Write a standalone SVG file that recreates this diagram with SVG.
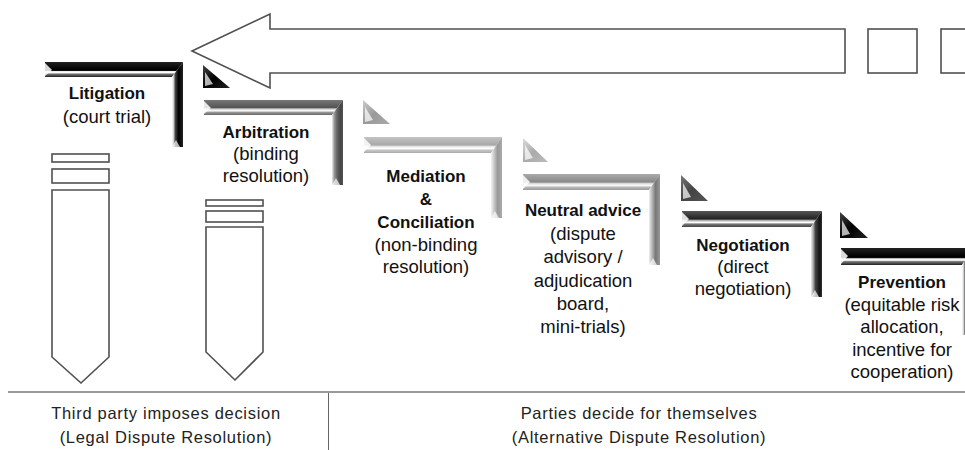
<svg xmlns="http://www.w3.org/2000/svg" width="965" height="450" viewBox="0 0 965 450">
<style>
text{font-family:"Liberation Sans",Arial,sans-serif;fill:#111;text-anchor:middle}
.h{font-weight:bold;font-size:17px}
.r{font-size:18.5px}
.f{font-size:16.5px;letter-spacing:0.7px;fill:#222}
.ol{fill:#fff;stroke:#505050;stroke-width:1.6}
.k .top{fill:url(#kT)} .k .side{fill:url(#kS)} .k .tri{fill:url(#kR)}
.a .top{fill:url(#aT)} .a .side{fill:url(#aS)}
.m .top{fill:url(#mT)} .m .side{fill:url(#mS)} .m .tri{fill:url(#mR)}
.n .top{fill:url(#nT)} .n .side{fill:url(#nS)} .n .tri{fill:url(#nR)}
.g .top{fill:url(#gT)} .g .side{fill:url(#gS)} .g .tri{fill:url(#gR)}
.hl{fill:#fff;opacity:0.85}
.lt{fill:#fff;opacity:0.7}
</style>
<defs>
<linearGradient id="kT" x1="0" y1="0" x2="0" y2="1"><stop offset="0" stop-color="#222"/><stop offset="0.5" stop-color="#000"/><stop offset="0.58" stop-color="#111"/><stop offset="0.63" stop-color="#eee"/><stop offset="0.72" stop-color="#fff"/><stop offset="0.8" stop-color="#777"/><stop offset="1" stop-color="#222"/></linearGradient>
<linearGradient id="kS" x1="0" y1="0" x2="1" y2="0"><stop offset="0" stop-color="#fff"/><stop offset="0.15" stop-color="#ccc"/><stop offset="0.3" stop-color="#444"/><stop offset="0.6" stop-color="#000"/><stop offset="1" stop-color="#222"/></linearGradient>
<linearGradient id="kR" x1="0" y1="0" x2="1" y2="1"><stop offset="0" stop-color="#444"/><stop offset="0.5" stop-color="#000"/><stop offset="1" stop-color="#222"/></linearGradient>
<linearGradient id="aT" x1="0" y1="0" x2="0" y2="1"><stop offset="0" stop-color="#777"/><stop offset="0.5" stop-color="#555"/><stop offset="0.6" stop-color="#ccc"/><stop offset="0.72" stop-color="#fff"/><stop offset="0.82" stop-color="#999"/><stop offset="1" stop-color="#666"/></linearGradient>
<linearGradient id="aS" x1="0" y1="0" x2="1" y2="0"><stop offset="0" stop-color="#eee"/><stop offset="0.2" stop-color="#999"/><stop offset="0.45" stop-color="#666"/><stop offset="0.8" stop-color="#444"/><stop offset="1" stop-color="#555"/></linearGradient>
<linearGradient id="mT" x1="0" y1="0" x2="0" y2="1"><stop offset="0" stop-color="#c4c4c4"/><stop offset="0.5" stop-color="#a8a8a8"/><stop offset="0.6" stop-color="#e8e8e8"/><stop offset="0.72" stop-color="#fff"/><stop offset="0.82" stop-color="#c8c8c8"/><stop offset="1" stop-color="#a8a8a8"/></linearGradient>
<linearGradient id="mS" x1="0" y1="0" x2="1" y2="0"><stop offset="0" stop-color="#f4f4f4"/><stop offset="0.25" stop-color="#ccc"/><stop offset="0.6" stop-color="#999"/><stop offset="1" stop-color="#aaa"/></linearGradient>
<linearGradient id="mR" x1="0" y1="0" x2="1" y2="1"><stop offset="0" stop-color="#ccc"/><stop offset="0.5" stop-color="#999"/><stop offset="1" stop-color="#aaa"/></linearGradient>
<linearGradient id="nT" x1="0" y1="0" x2="0" y2="1"><stop offset="0" stop-color="#aaa"/><stop offset="0.5" stop-color="#888"/><stop offset="0.6" stop-color="#ddd"/><stop offset="0.72" stop-color="#fafafa"/><stop offset="0.82" stop-color="#bbb"/><stop offset="1" stop-color="#999"/></linearGradient>
<linearGradient id="nS" x1="0" y1="0" x2="1" y2="0"><stop offset="0" stop-color="#eee"/><stop offset="0.25" stop-color="#bbb"/><stop offset="0.6" stop-color="#777"/><stop offset="1" stop-color="#999"/></linearGradient>
<linearGradient id="nR" x1="0" y1="0" x2="1" y2="1"><stop offset="0" stop-color="#ddd"/><stop offset="0.5" stop-color="#aaa"/><stop offset="1" stop-color="#bbb"/></linearGradient>
<linearGradient id="gT" x1="0" y1="0" x2="0" y2="1"><stop offset="0" stop-color="#555"/><stop offset="0.5" stop-color="#222"/><stop offset="0.6" stop-color="#bbb"/><stop offset="0.72" stop-color="#fff"/><stop offset="0.82" stop-color="#777"/><stop offset="1" stop-color="#444"/></linearGradient>
<linearGradient id="gS" x1="0" y1="0" x2="1" y2="0"><stop offset="0" stop-color="#eee"/><stop offset="0.2" stop-color="#aaa"/><stop offset="0.4" stop-color="#444"/><stop offset="0.8" stop-color="#111"/><stop offset="1" stop-color="#333"/></linearGradient>
<linearGradient id="gR" x1="0" y1="0" x2="1" y2="1"><stop offset="0" stop-color="#777"/><stop offset="0.5" stop-color="#444"/><stop offset="1" stop-color="#555"/></linearGradient>
</defs>

<g id="arrow">
<polygon class="ol" points="192,51 270,14 270,29 845,29 845,73 270,73 270,88"/>
<rect class="ol" x="868" y="29" width="49" height="44"/>
<rect class="ol" x="941" y="29" width="40" height="44"/>
</g>

<g id="pencil-litigation">
<rect class="ol" x="52" y="154" width="57" height="8"/>
<rect class="ol" x="52" y="169" width="57" height="14"/>
<polygon class="ol" points="52,190 109,190 109,357 81,383 52,357"/>
</g>
<g id="pencil-arbitration">
<rect class="ol" x="206" y="200" width="57" height="6"/>
<rect class="ol" x="206" y="211" width="57" height="11"/>
<polygon class="ol" points="206,227 263,227 263,352 235,380 206,352"/>
</g>

<g id="litigation" class="k">
<g transform="translate(45,62)">
<polygon class="top" points="0,0 138,0 127,15 0,15"/>
<polygon class="side" points="138,0 138,85 127,85 127,15"/>
<polygon class="hl" points="0,1 7,8 0,14"/>
<polygon class="lt" points="127,85 131,78 135,85"/>
</g>
<text class="h" x="107" y="99">Litigation</text>
<text class="r" x="107" y="123">(court trial)</text>
</g>

<g id="arbitration" class="a">
<polygon class="tri" points="203,65 203,88 230,88" style="fill:url(#kR)"/>
<polygon class="lt" points="205,72 205,86 213,84"/>
<g transform="translate(204,100)">
<polygon class="top" points="0,0 139,0 128,15 0,15"/>
<polygon class="side" points="139,0 139,85 128,85 128,15"/>
<polygon class="hl" points="0,1 7,8 0,14"/>
<polygon class="lt" points="128,85 132,78 136,85"/>
</g>
<text class="h" x="266" y="138">Arbitration</text>
<text class="r" x="266" y="160">(binding</text>
<text class="r" x="266" y="182">resolution)</text>
</g>

<g id="mediation" class="m">
<polygon class="tri" points="363,100 363,124 390,124"/>
<polygon class="lt" points="365,107 365,122 373,120"/>
<g transform="translate(364,137)">
<polygon class="top" points="0,0 138,0 127,16 0,16"/>
<polygon class="side" points="138,0 138,81 127,81 127,16"/>
<polygon class="hl" points="0,1 7,8 0,15"/>
<polygon class="lt" points="127,81 131,74 135,81"/>
</g>
<text class="h" x="426" y="182">Mediation</text>
<text class="h" x="426" y="205">&amp;</text>
<text class="h" x="426" y="228">Conciliation</text>
<text class="r" x="426" y="251">(non-binding</text>
<text class="r" x="426" y="273">resolution)</text>
</g>

<g id="neutral-advice" class="n">
<polygon class="tri" points="523,138 523,162 548,162"/>
<polygon class="lt" points="525,145 525,160 533,158"/>
<g transform="translate(523,174)">
<polygon class="top" points="0,0 137,0 126,16 0,16"/>
<polygon class="side" points="137,0 137,91 126,91 126,16"/>
<polygon class="hl" points="0,1 7,8 0,15"/>
<polygon class="lt" points="126,91 130,84 134,91"/>
</g>
<text class="h" x="583" y="216">Neutral advice</text>
<text class="r" x="583" y="240">(dispute</text>
<text class="r" x="583" y="263">advisory /</text>
<text class="r" x="583" y="287">adjudication</text>
<text class="r" x="583" y="310">board,</text>
<text class="r" x="583" y="333">mini-trials)</text>
</g>

<g id="negotiation" class="g">
<polygon class="tri" points="681,175 681,201 708,201"/>
<polygon class="lt" points="683,183 683,199 691,197"/>
<g transform="translate(682,211)">
<polygon class="top" points="0,0 140,0 129,16 0,16"/>
<polygon class="side" points="140,0 140,86 129,86 129,16"/>
<polygon class="hl" points="0,1 7,8 0,15"/>
<polygon class="lt" points="129,86 133,79 137,86"/>
</g>
<text class="h" x="743" y="251">Negotiation</text>
<text class="r" x="743" y="273">(direct</text>
<text class="r" x="743" y="295">negotiation)</text>
</g>

<g id="prevention" class="k">
<polygon class="tri" points="840,212 840,238 868,238"/>
<polygon class="lt" points="842,220 842,236 850,234"/>
<g transform="translate(841,248)">
<polygon class="top" points="0,0 132,0 121,17 0,17"/>
<polygon class="side" points="132,0 132,87 121,87 121,17"/>
<polygon class="hl" points="0,1 7,8 0,16"/>
</g>
<text class="h" x="902" y="288">Prevention</text>
<text class="r" x="902" y="311">(equitable risk</text>
<text class="r" x="902" y="333">allocation,</text>
<text class="r" x="902" y="356">incentive for</text>
<text class="r" x="902" y="378">cooperation)</text>
</g>

<g id="footer">
<line x1="8" y1="392" x2="965" y2="392" stroke="#999" stroke-width="2"/>
<line x1="328.5" y1="393" x2="328.5" y2="450" stroke="#666" stroke-width="1"/>
<text class="f" x="166" y="419">Third party imposes decision</text>
<text class="f" x="166" y="443">(Legal Dispute Resolution)</text>
<text class="f" x="639" y="419">Parties decide for themselves</text>
<text class="f" x="639" y="443">(Alternative Dispute Resolution)</text>
</g>
</svg>
